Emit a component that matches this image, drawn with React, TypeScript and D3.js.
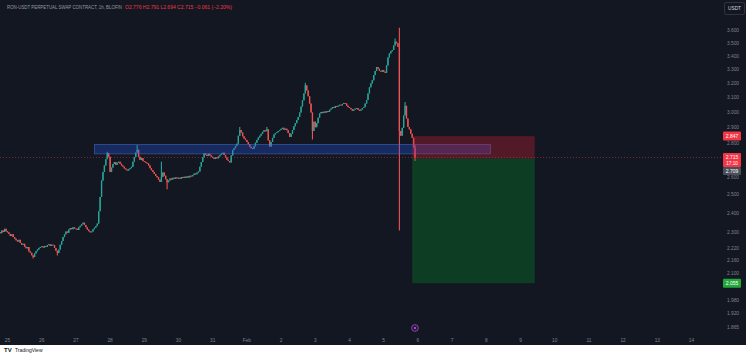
import React from 'react';
import * as d3 from 'd3';

const W = 750;
const H = 360;

// hourly closes (RON-USDT perp, BloFin), first candle Jan 24 19:00
const jan24 = [2.296, 2.31, 2.302, 2.318, 2.306];
const jan25 = [2.3, 2.292, 2.281, 2.29, 2.276, 2.268, 2.26, 2.254, 2.262, 2.246, 2.238, 2.242, 2.228, 2.22, 2.226, 2.205, 2.198, 2.186, 2.178, 2.195, 2.206, 2.214, 2.222, 2.226];
const jan26 = [2.23, 2.224, 2.232, 2.228, 2.236, 2.24, 2.232, 2.238, 2.236, 2.222, 2.208, 2.197, 2.214, 2.238, 2.256, 2.276, 2.29, 2.304, 2.298, 2.314, 2.322, 2.316, 2.326, 2.32];
const jan27 = [2.318, 2.312, 2.326, 2.334, 2.342, 2.35, 2.338, 2.326, 2.314, 2.306, 2.3, 2.304, 2.316, 2.324, 2.332, 2.345, 2.41, 2.488, 2.58, 2.63, 2.668, 2.705, 2.742, 2.72];
const jan28 = [2.63, 2.655, 2.676, 2.688, 2.672, 2.684, 2.69, 2.678, 2.668, 2.66, 2.65, 2.644, 2.638, 2.646, 2.652, 2.66, 2.69, 2.718, 2.745, 2.762, 2.72, 2.7, 2.712, 2.694];
const jan29 = [2.69, 2.684, 2.68, 2.668, 2.652, 2.64, 2.63, 2.618, 2.606, 2.598, 2.585, 2.572, 2.6, 2.626, 2.608, 2.588, 2.57, 2.58, 2.592, 2.586, 2.596, 2.59, 2.598, 2.592];
const jan30 = [2.596, 2.59, 2.6, 2.594, 2.602, 2.596, 2.604, 2.598, 2.608, 2.604, 2.612, 2.62, 2.616, 2.626, 2.632, 2.66, 2.688, 2.716, 2.74, 2.732, 2.724, 2.738, 2.728, 2.72];
const jan31 = [2.714, 2.706, 2.716, 2.71, 2.722, 2.73, 2.738, 2.744, 2.73, 2.716, 2.702, 2.694, 2.686, 2.728, 2.76, 2.772, 2.786, 2.8, 2.85, 2.886, 2.87, 2.846, 2.832, 2.822];
const feb01 = [2.81, 2.796, 2.78, 2.772, 2.768, 2.784, 2.806, 2.822, 2.838, 2.85, 2.862, 2.874, 2.884, 2.878, 2.89, 2.82, 2.782, 2.81, 2.836, 2.858, 2.866, 2.872, 2.88, 2.886];
const feb02 = [2.894, 2.9, 2.888, 2.894, 2.884, 2.866, 2.842, 2.862, 2.886, 2.91, 2.93, 2.95, 2.97, 3.0, 3.04, 3.082, 3.13, 3.186, 3.15, 3.11, 3.06, 3.0, 2.88, 2.94];
const feb03 = [2.904, 2.93, 2.966, 2.994, 3.004, 2.996, 3.006, 3.0, 3.01, 3.004, 3.018, 3.026, 3.036, 3.03, 3.044, 3.038, 3.046, 3.052, 3.048, 3.058, 3.064, 3.06, 3.046, 3.036];
const feb04 = [3.03, 3.022, 3.012, 3.02, 3.026, 3.03, 3.018, 3.012, 3.02, 3.03, 3.036, 3.06, 3.084, 3.13, 3.172, 3.2, 3.222, 3.26, 3.29, 3.318, 3.306, 3.29, 3.284, 3.296];
const feb05 = [3.284, 3.276, 3.33, 3.39, 3.42, 3.436, 3.446, 3.48, 3.51, 3.498, 3.47, 2.88, 2.85, 2.9, 2.98, 3.045, 2.96, 2.905, 2.89, 2.862, 2.836, 2.776, 2.715];

const firstOpen = 2.3;
const closes = [...jan24, ...jan25, ...jan26, ...jan27, ...jan28, ...jan29, ...jan30, ...jan31, ...feb01, ...feb02, ...feb03, ...feb04, ...feb05];

// wicks that stick out of the bodies
const wicks = [
  { t: '2024-01-25T18:00Z', low: 2.17 },
  { t: '2024-01-26T11:00Z', low: 2.185 },
  { t: '2024-01-27T22:00Z', high: 2.75 },
  { t: '2024-01-28T19:00Z', high: 2.792 },
  { t: '2024-01-29T12:00Z', high: 2.69 },
  { t: '2024-01-29T16:00Z', low: 2.53 },
  { t: '2024-01-31T19:00Z', high: 2.905 },
  { t: '2024-02-01T14:00Z', high: 2.905 },
  { t: '2024-02-02T17:00Z', high: 3.205 },
  { t: '2024-02-02T22:00Z', low: 2.825 },
  { t: '2024-02-05T08:00Z', high: 3.535 },
  { t: '2024-02-05T11:00Z', high: 3.62, low: 2.31 },
  { t: '2024-02-05T15:00Z', high: 3.07 },
  { t: '2024-02-05T22:00Z', high: 2.791, low: 2.694 },
];

const priceTicks = [3.6, 3.5, 3.4, 3.3, 3.2, 3.1, 3.0, 2.9, 2.8, 2.6, 2.5, 2.4, 2.3, 2.22, 2.16, 2.1, 1.98, 1.92, 1.865];
const dayLabels = ['25', '26', '27', '28', '29', '30', '31', 'Feb', '2', '3', '4', '5', '6', '7', '8', '9', '10', '11', '12', '13', '14'];

const zone = { from: '2024-01-27T13:00Z', to: '2024-02-08T03:00Z', top: 2.795, bottom: 2.737 };
const position = { from: '2024-02-05T20:00Z', to: '2024-02-09T10:00Z', entry: 2.709, stop: 2.847, target: 2.055 };
const lastPrice = 2.715;

const UP = '#26a69a';
const DOWN = '#ef5350';
const FONT = '"Liberation Sans", Arial, sans-serif';

export default function App() {
  const x = d3.scaleUtc()
    .domain([new Date('2024-01-25T00:00Z'), new Date('2024-02-14T00:00Z')])
    .range([7.5, 691.5]);
  const y = d3.scaleLog().domain([3.85, 1.84]).range([0, 333]);

  const start = Date.parse('2024-01-24T19:00Z');
  const wickMap = new Map(wicks.map(w => [Date.parse(w.t), w]));
  const candles = closes.map((c, i) => {
    const t = start + i * 3600e3;
    const o = i ? closes[i - 1] : firstOpen;
    const w: any = wickMap.get(t) || {};
    return { t: new Date(t), o, c, h: w.high ?? Math.max(o, c), l: w.low ?? Math.min(o, c) };
  });

  const dayDates = dayLabels.map((_, i) => d3.utcDay.offset(new Date('2024-01-25T00:00Z'), i));
  const bw = 1.3;
  const px0 = x(new Date(position.from));
  const pw = x(new Date(position.to)) - px0;

  return (
    <svg width={W} height={H} style={{ position: 'absolute', left: 0, top: 0 }} fontFamily={FONT}>
      <rect width={W} height={H} fill="#ffffff" />
      <rect x={0} y={0} width={746} height={345} fill="#131722" />

      {/* candles */}
      {candles.map((d, i) => {
        const col = d.c >= d.o ? UP : DOWN;
        const cx = x(d.t);
        const top = y(Math.max(d.o, d.c));
        const bh = Math.max(0.9, y(Math.min(d.o, d.c)) - top);
        return (
          <g key={i}>
            <line x1={cx} x2={cx} y1={y(d.h)} y2={y(d.l)} stroke={col} strokeWidth={1.1} />
            <rect x={cx - bw / 2} y={top} width={bw} height={bh} fill={col} />
          </g>
        );
      })}

      {/* supply zone */}
      <rect x={x(new Date(zone.from))} y={y(zone.top)} width={x(new Date(zone.to)) - x(new Date(zone.from))}
        height={y(zone.bottom) - y(zone.top)} fill="rgba(41,98,255,0.28)" stroke="rgba(80,120,230,0.55)" strokeWidth={0.8} />

      {/* short position */}
      <rect x={px0} y={y(position.stop)} width={pw} height={y(position.entry) - y(position.stop)} fill="rgba(230,30,50,0.3)" />
      <rect x={px0} y={y(position.entry)} width={pw} height={y(position.target) - y(position.entry)} fill="rgba(0,150,40,0.3)" />

      {/* last price line */}
      <line x1={0} x2={721} y1={y(lastPrice)} y2={y(lastPrice)} stroke="#f23645" strokeWidth={0.6} strokeDasharray="1 2" opacity={0.8} />

      {/* price axis */}
      {priceTicks.map(p => (
        <text key={p} x={733} y={y(p)} dy="0.35em" fontSize={4.8} fill="#7f838e" textAnchor="middle">{p.toFixed(3)}</text>
      ))}
      <rect x={723} y={y(position.stop) - 4.5} width={18} height={9} rx={1} fill="#f23645" />
      <text x={732} y={y(position.stop)} dy="0.35em" fontSize={5} fill="#fff" textAnchor="middle">{position.stop.toFixed(3)}</text>
      <rect x={723} y={y(lastPrice) - 4.5} width={18} height={14} rx={1} fill="#f23645" />
      <text x={732} y={y(lastPrice)} dy="0.35em" fontSize={5} fill="#fff" textAnchor="middle">{lastPrice.toFixed(3)}</text>
      <text x={732} y={y(lastPrice) + 5.5} dy="0.35em" fontSize={4.6} fill="#fff" textAnchor="middle">17:10</text>
      <rect x={723} y={y(lastPrice) + 9.5} width={18} height={8} rx={1} fill="#4a4e59" />
      <text x={732} y={y(lastPrice) + 13.5} dy="0.35em" fontSize={5} fill="#fff" textAnchor="middle">{position.entry.toFixed(3)}</text>
      <rect x={723} y={y(position.target) - 4.5} width={18} height={9} rx={1} fill="#22a83a" />
      <text x={732} y={y(position.target)} dy="0.35em" fontSize={5} fill="#fff" textAnchor="middle">{position.target.toFixed(3)}</text>

      <rect x={724.5} y={2.5} width={20} height={12} rx={1.5} fill="#131722" stroke="#363a45" strokeWidth={0.8} />
      <text x={734.5} y={8.5} dy="0.35em" fontSize={4.8} fill="#d1d4dc" textAnchor="middle">USDT</text>

      {/* time axis */}
      {dayLabels.map((lab, i) => (
        <text key={lab + i} x={x(dayDates[i])} y={340} dy="0.35em" fontSize={4.8} fill="#7f838e" textAnchor="middle">{lab}</text>
      ))}

      {/* event marker */}
      <circle cx={415} cy={328} r={3.4} fill="#2a1838" stroke="#a04ccc" strokeWidth={0.8} />
      <circle cx={415} cy={328} r={1.1} fill="#b860e0" />

      {/* legend */}
      <text x={7} y={7.5} dy="0.35em" fontSize={4.6} fill="#9598a1" textLength={115} lengthAdjust="spacingAndGlyphs">RON-USDT PERPETUAL SWAP CONTRACT, 1h, BLOFIN</text>
      <text x={125} y={7.5} dy="0.35em" fontSize={4.6} fill="#f23645" textLength={107} lengthAdjust="spacingAndGlyphs">O2.776  H2.791  L2.694  C2.715  −0.061 (−2.20%)</text>

      {/* logo */}
      <text x={4} y={350} dy="0.35em" fontSize={6} fontWeight="bold" fill="#131722">TV</text>
      <text x={15} y={350} dy="0.35em" fontSize={5} fill="#131722">TradingView</text>
    </svg>
  );
}
